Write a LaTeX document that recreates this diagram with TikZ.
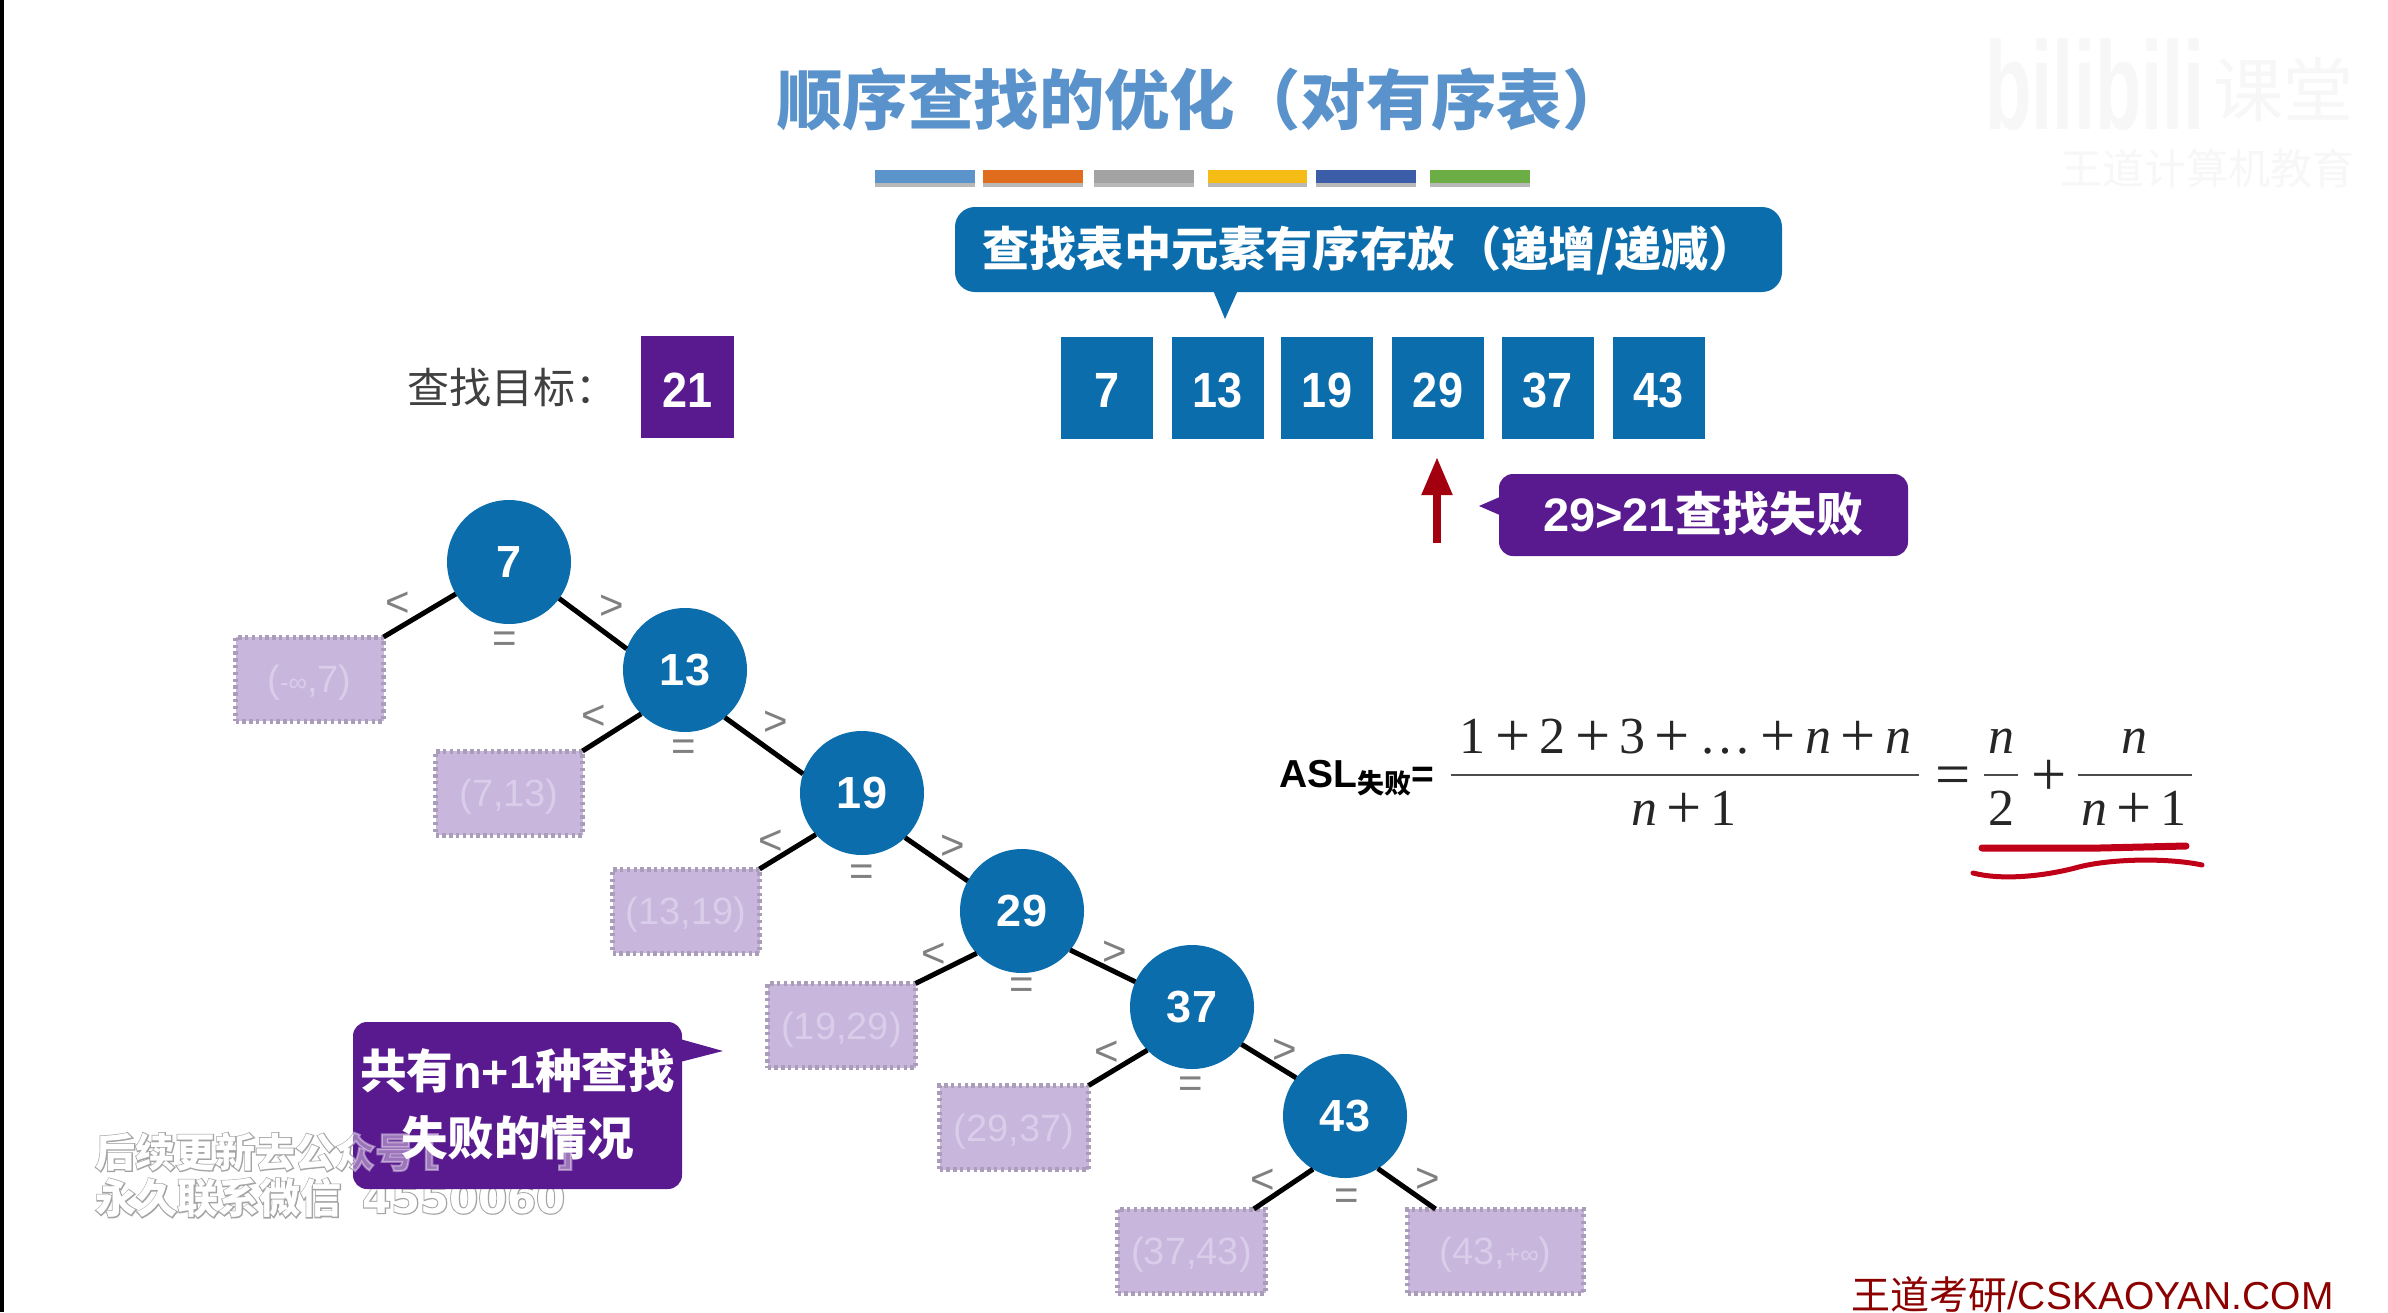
\documentclass[tikz,border=0pt]{standalone}
\usepackage{fontspec}
\usepackage{graphicx}
\usetikzlibrary{arrows.meta}
\setmainfont{Liberation Sans}
\newfontfamily\cjk{Noto Sans CJK SC}
\newfontfamily\lat{Liberation Sans}
\newfontfamily\serif{Liberation Serif}
\newfontfamily\wmcjk[FakeBold=5]{Noto Sans CJK SC}
\newfontfamily\wmlat[FakeBold=5]{DejaVu Sans}
\newfontfamily\wmlatp{DejaVu Sans}
\definecolor{nblue}{HTML}{0C6DAC}
\definecolor{npurple}{HTML}{5A1A8F}
\definecolor{ftitle}{HTML}{5A93CB}
\definecolor{boxfill}{HTML}{C9B6DD}
\definecolor{boxedge}{HTML}{A99DBA}
\definecolor{boxtext}{HTML}{D9CDEA}
\definecolor{dred}{HTML}{A3000F}
\definecolor{ured}{HTML}{C00018}
\definecolor{wmgray}{HTML}{A4A4A4}
\newcommand\numtxt{\fontsize{22.5}{27}\selectfont\bfseries\color{white}}
\newcommand\sn[1]{\scalebox{1}[1.1]{#1}}
\newcommand\bp{\raisebox{-.06em}{\scalebox{1.2}{+}}}
\newcommand\pl{\hspace{.18em}\bp\hspace{.18em}}
\tikzset{
  x=0.5pt,y=-0.5pt,
  arr/.style={fill=nblue,inner sep=0pt,outer sep=0pt,minimum width=46pt,minimum height=51pt,font=\numtxt,text height=20.1pt,text depth=0pt},
  tgt/.style={fill=npurple,inner sep=0pt,outer sep=0pt,minimum width=46.5pt,minimum height=51pt,font=\numtxt,text height=20.1pt,text depth=0pt},
  cnode/.style={circle,fill=nblue,inner sep=0pt,outer sep=0pt,minimum size=62pt,font=\numtxt},
  fail/.style={fill=boxfill,draw=boxedge,line width=2.5pt,dash pattern=on 1.7pt off 1.7pt,inner sep=0pt,outer sep=0pt,minimum height=42pt,text=boxtext,font=\fontsize{19}{23}\selectfont,text height=17.8pt,text depth=4pt},
  lnk/.style={draw=black,line width=2.5pt},
  cmp/.style={text=black!50,inner sep=0pt,font=\fontsize{21}{25}\selectfont},
  cwhite/.style={text=white,inner sep=0pt,font=\cjk\bfseries},
  ftxt/.style={inner sep=0pt,anchor=base,font=\serif\fontsize{26}{31}\selectfont,text=black!85},
  frule/.style={draw=black!70,line width=1.4pt},
  wm/.style={inner sep=0pt,anchor=west},
  wmin/.style={inner sep=0pt,anchor=west,text=white,text opacity=.4},
  faint/.style={inner sep=0pt,text=black!3},
}
\begin{document}
\begin{tikzpicture}
\useasboundingbox (0,0) rectangle (2388,1312);
\fill[white] (0,0) rectangle (2388,1312);
\fill[black] (0,0) rectangle (4,1312);
% title and colour bars
\node[inner sep=0pt,anchor=west,text=ftitle,font=\cjk\bfseries\fontsize{32.7}{39}\selectfont] (title) at (777,100) {顺序查找的优化（对有序表）};
\foreach \xa/\xb/\col in {875/975/5B93CB,983/1083/E06D1E,1094/1194/A3A3A3,1208/1307/F4BC14,1316/1416/3C5DA8,1430/1530/6CAE45}{
  \definecolor{barc}{HTML}{\col}
  \fill[black!28] (\xa,177) rectangle (\xb,187);
  \fill[barc] (\xa,170) rectangle (\xb,183);
}
% faint top-right watermark
\node[faint,anchor=west,font=\fontsize{38}{46}\selectfont\bfseries] (wmb) at (1985,85) {\scalebox{1}[1.65]{bilibili}};
\node[faint,anchor=west,font=\cjk\fontsize{35}{42}\selectfont] (wmk) at (2213,90) {课堂};
\node[faint,anchor=west,font=\cjk\fontsize{21}{25}\selectfont] (wmw) at (2060,168) {王道计算机教育};
% top callout
\node[fill=nblue,rounded corners=10pt,inner sep=0pt,outer sep=0pt,minimum width=413.5pt,minimum height=42.5pt] (cb) at (1368.5,249.5) {};
\coordinate (cbtip) at (1225,319);
\fill[nblue] (1213,290) -- (cbtip) -- (1238,290) -- cycle;
\node[cwhite,anchor=west,font=\cjk\bfseries\fontsize{23.6}{30}\selectfont] (cbt) at (982,250) {查找表中元素有序存放（递增/递减）};
% target and array
\node[anchor=west,inner sep=0pt,text=black!75,font=\cjk\fontsize{21}{25}\selectfont] (lbl) at (407,388) {查找目标：};
\node[tgt] (tg) at (687.5,387) {\sn{21}};
\node[arr] (a1) at (1107,387.5) {\sn{7}};
\node[arr] (a2) at (1217.5,387.5) {\sn{13}};
\node[arr] (a3) at (1327,387.5) {\sn{19}};
\node[arr] (a4) at (1438,387.5) {\sn{29}};
\node[arr] (a5) at (1547.5,387.5) {\sn{37}};
\node[arr] (a6) at (1658.5,387.5) {\sn{43}};
% red arrow
\coordinate (arS) at (1437,543);
\coordinate (arT) at (1437,457);
\draw[dred,line width=4pt,-{Triangle[length=19pt,width=14.5pt]}] (arS) -- (arT);
% purple callout
\node[fill=npurple,rounded corners=7pt,inner sep=0pt,outer sep=0pt,minimum width=204.5pt,minimum height=41pt] (cp) at (1703.5,515) {};
\coordinate (cptip) at (1479,506);
\fill[npurple] (1502,496) -- (cptip) -- (1502,516) -- cycle;
\node[inner sep=0pt,text=white,font=\fontsize{23.5}{28}\selectfont\bfseries] (cpt) at (1703,514) {29>21{\cjk 查找失败}};
% fail boxes
\node[fail,minimum width=74pt] (b1) at (309.5,679) {(\raisebox{0.5pt}{\fontsize{13}{15}\selectfont-∞},7)};
\node[fail,minimum width=73.5pt] (b2) at (509,793) {(7,13)};
\node[fail,minimum width=73.5pt] (b3) at (686,911) {(13,19)};
\node[fail,minimum width=74pt] (b4) at (841.5,1025.5) {(19,29)};
\node[fail,minimum width=74.5pt] (b5) at (1014,1127.5) {(29,37)};
\node[fail,minimum width=74pt] (b6) at (1191.5,1251) {(37,43)};
\node[fail,minimum width=88pt] (b7) at (1495.5,1251) {(43,\raisebox{0.5pt}{\fontsize{13}{15}\selectfont+∞})};
% tree nodes
\node[cnode] (n1) at (509,562) {7};
\node[cnode] (n2) at (685,670) {13};
\node[cnode] (n3) at (862,793) {19};
\node[cnode] (n4) at (1022,911) {29};
\node[cnode] (n5) at (1192,1007) {37};
\node[cnode] (n6) at (1345,1116) {43};
% links
\draw[lnk] (n1.211) -- (b1.north east);
\draw[lnk] (n1.-36) -- (n2.160);
\draw[lnk] (n2.225) -- (b2.north east);
\draw[lnk] (n2.-50) -- (n3.162);
\draw[lnk] (n3.222) -- (b3.north east);
\draw[lnk] (n3.-46) -- (n4.151);
\draw[lnk] (n4.223) -- (b4.north east);
\draw[lnk] (n4.-39) -- (n5.156);
\draw[lnk] (n5.224) -- (b5.north east);
\draw[lnk] (n5.-37) -- (n6.142);
\draw[lnk] (n6.239) -- (b6.34);
\draw[lnk] (n6.-58) -- (b7.145);
% comparison signs
\node[cmp] (l1) at (398,604) {<}; \node[cmp] (g1) at (612,607) {>}; \node[cmp] (e1) at (505,642) {=};
\node[cmp] (l2) at (594,717) {<}; \node[cmp] (g2) at (776,723) {>}; \node[cmp] (e2) at (684,750) {=};
\node[cmp] (l3) at (771,842) {<}; \node[cmp] (g3) at (953,847) {>}; \node[cmp] (e3) at (862,875) {=};
\node[cmp] (l4) at (934,955) {<}; \node[cmp] (g4) at (1115,953) {>}; \node[cmp] (e4) at (1022,988) {=};
\node[cmp] (l5) at (1107,1053) {<}; \node[cmp] (g5) at (1285,1051) {>}; \node[cmp] (e5) at (1191,1087) {=};
\node[cmp] (l6) at (1263,1181) {<}; \node[cmp] (g6) at (1428,1180) {>}; \node[cmp] (e6) at (1347,1199) {=};
% lower-left watermark, beneath the callout
\node[wm,text=wmgray,font=\wmcjk\bfseries\fontsize{20}{24}\selectfont] (w1g) at (95,1152) {后续更新去公众号};
\node[wm,text=white,font=\cjk\bfseries\fontsize{20}{24}\selectfont] (w1w) at (95,1152) {后续更新去公众号};
\node[wm,text=wmgray,font=\wmcjk\bfseries\fontsize{20.5}{24}\selectfont] (w2g) at (95,1198) {永久联系微信};
\node[wm,text=white,font=\cjk\bfseries\fontsize{20.5}{24}\selectfont] (w2w) at (95,1198) {永久联系微信};
\node[wm,text=wmgray,font=\wmlat\bfseries\fontsize{20.8}{24}\selectfont] (w3g) at (362,1198) {4550060};
\node[wm,text=white,font=\wmlatp\bfseries\fontsize{20.8}{24}\selectfont] (w3w) at (362,1198) {4550060};
% n+1 callout
\node[fill=npurple,rounded corners=7pt,inner sep=0pt,outer sep=0pt,minimum width=164.5pt,minimum height=83.5pt] (cn) at (517.5,1105.5) {};
\coordinate (cntip) at (723,1051);
\fill[npurple] (680,1039) -- (cntip) -- (680,1062) -- cycle;
% the watermark shows through the callout
\begin{scope}
\clip (cn.south west) rectangle (cn.north east);
\node[wmin,font=\wmcjk\bfseries\fontsize{20}{24}\selectfont] (w1i) at (95,1152) {后续更新去公众号};
\node[wmin,font=\wmlat\bfseries\fontsize{20}{24}\selectfont] (w1b) at (422,1152) {[};
\node[wmin,font=\wmlat\bfseries\fontsize{20}{24}\selectfont] (w1c) at (556,1152) {]};
\end{scope}
% n+1 callout text
\node[cwhite,font=\cjk\bfseries\fontsize{23.3}{28}\selectfont] (cn1) at (517.5,1071) {共有{\lat\bfseries n+1}种查找};
\node[cwhite,font=\cjk\bfseries\fontsize{23.3}{28}\selectfont] (cn2) at (517.5,1138) {失败的情况};
% formula
\node[inner sep=0pt,anchor=base west,font=\fontsize{19.5}{23}\selectfont\bfseries] (asl) at (1279,787) {ASL\raisebox{-3pt}{\cjk\fontsize{13.5}{16}\selectfont 失败}=};
\node[ftxt] (f1n) at (1685.5,753) {1\pl 2\pl 3\pl \ldots\pl\textit{n}\pl\textit{n}};
\node[ftxt] (f1d) at (1684,825) {\textit{n}\pl 1};
\draw[frule] (1451,775) -- (1919,775);
\node[ftxt] (feq) at (1953.5,792) {\raisebox{-.06em}{\scalebox{1.2}{=}}};
\node[ftxt] (f2n) at (2001,753) {\textit{n}};
\node[ftxt] (f2d) at (2001,825) {2};
\draw[frule] (1984,775) -- (2018,775);
\node[ftxt] (fpl) at (2049,792) {\bp};
\node[ftxt] (f3n) at (2134,753) {\textit{n}};
\node[ftxt] (f3d) at (2134,825) {\textit{n}\pl 1};
\draw[frule] (2078,775) -- (2192,775);
% red underlines
\draw[ured,line width=3.5pt,line cap=round] (1982,848) -- (2100,848) -- (2186,846);
\draw[ured,line width=2.5pt,line cap=round] (1973,873) .. controls (2000,880) and (2040,877) .. (2075,868) .. controls (2110,858) and (2170,858) .. (2202,865);
% footer
\node[inner sep=0pt,anchor=east,text=red!55!black,font=\fontsize{19.5}{22}\selectfont] (ft) at (2334,1295) {{\cjk 王道考研}/CSKAOYAN.COM};
\end{tikzpicture}
\end{document}
